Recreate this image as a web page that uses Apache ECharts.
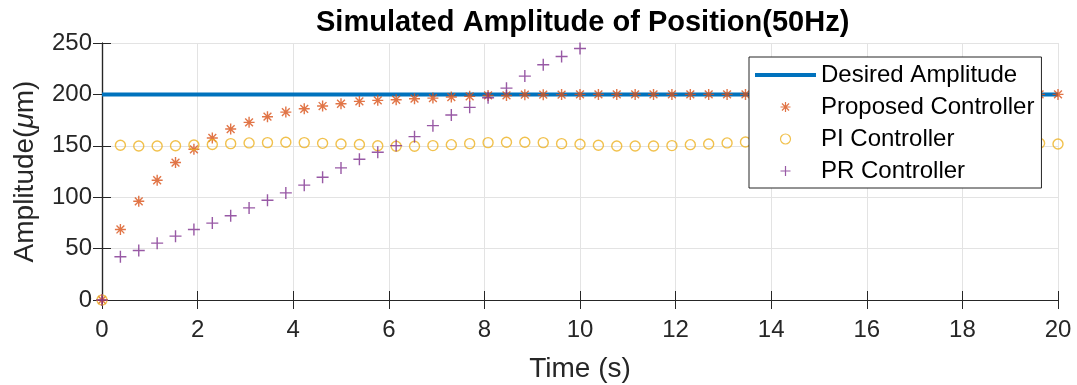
<!DOCTYPE html>
<html>
<head>
<meta charset="utf-8">
<script src="https://cdn.jsdelivr.net/npm/echarts@6/dist/echarts.min.js"></script>
<style>
  html, body { margin: 0; padding: 0; background: #fff; }
  #chart { width: 1077px; height: 385px; }
</style>
</head>
<body>
<div id="chart"></div>
<script>
// sample times (s)
const timeS = [0, 0.385, 0.769, 1.154, 1.538, 1.923, 2.308, 2.692, 3.077, 3.462, 3.846, 4.231, 4.615, 5.0,
  5.385, 5.769, 6.154, 6.538, 6.923, 7.308, 7.692, 8.077, 8.462, 8.846, 9.231, 9.615, 10.0,
  10.385, 10.769, 11.154, 11.538, 11.923, 12.308, 12.692, 13.077, 13.462, 13.846, 14.231, 14.615, 15.0,
  15.385, 15.769, 16.154, 16.538, 16.923, 17.308, 17.692, 18.077, 18.462, 18.846, 19.231, 19.615, 20.0];

const desiredAmp = [[0, 200], [20, 200]];

const proposedAmp = [0, 68.6, 96, 116.5, 133.7, 146.6, 157.6, 166.3, 172.8, 178.3, 182.8, 186, 188.7, 190.9,
  193.2, 194.2, 194.8, 195.8, 196.4, 197.4, 198.1, 199.0, 199.0, 199.7, 199.7, 199.8, 200,
  200, 200, 200, 200, 200, 200, 200, 200, 200, 200, 200, 200, 200,
  200, 200, 200, 200, 200, 200, 200, 200, 200, 200, 200, 200, 200];

const piAmp = [0, 150.5, 149.8, 149.8, 150, 150.8, 151.2, 152.1, 152.8, 153.1, 153.4, 153.1, 152.4, 151.8,
  151.2, 150, 149.5, 149.5, 150.2, 151.1, 152.1, 153.1, 153.4, 153.4, 153.1, 152.1, 151.5,
  150.5, 149.8, 149.8, 149.8, 150.2, 151.1, 151.8, 152.8, 153.7, 153.6, 153.3, 152.6, 151.8,
  151.0, 150.3, 149.9, 149.8, 150.1, 150.8, 151.7, 152.6, 153.2, 153.4, 153.1, 152.5, 151.8];

// PR response leaves the axes after t = 10 s
const prAmp = [0, 42, 48.2, 55.3, 62.1, 68.6, 74.8, 81.9, 89.6, 97.1, 104.2, 111.7, 119.4, 128.5,
  136.9, 143.7, 150.2, 158.9, 169.6, 179.9, 187.4, 196.8, 206.1, 217.8, 228.8, 236.9, 244.7];

const xTicks = { min: 0, max: 20, interval: 2 };
const yTicks = { min: 0, max: 250, interval: 50 };

const FONT = '"Liberation Sans", Arial, Helvetica, sans-serif';
const INK = '#262626';
const pair = (ys) => ys.map((y, i) => [timeS[i], y]);

const starPath = 'path://M0,5L10,5M5,0L5,10M1.46,1.46L8.54,8.54M8.54,1.46L1.46,8.54';
const plusPath = 'path://M0,5L10,5M5,0L5,10';
const barPath = 'path://M0,0L61,0L61,4L0,4Z';

const chart = echarts.init(document.getElementById('chart'), null, { renderer: 'canvas' });

const axisCommon = {
  axisLine: { show: true, lineStyle: { color: INK, width: 1.2 } },
  axisTick: { show: true, inside: true, length: 9, lineStyle: { color: INK, width: 1 } }
};

chart.setOption({
  animation: false,
  backgroundColor: '#fff',
  title: {
    text: 'Simulated Amplitude of Position(50Hz)',
    left: 311,
    top: 3,
    textStyle: { fontFamily: FONT, fontSize: 29, fontWeight: 'bold', color: '#000' }
  },
  grid: { left: 102, right: 19, top: 43, bottom: 85, outerBoundsMode: 'none', containLabel: false },
  legend: {
    orient: 'vertical',
    left: 749,
    top: 57,
    z: 20,
    padding: [6, 7, 5, 6],
    itemGap: 8,
    itemWidth: 61,
    itemHeight: 10,
    backgroundColor: '#fff',
    borderColor: INK,
    borderWidth: 1,
    textStyle: { fontFamily: FONT, fontSize: 24, color: '#000', lineHeight: 22 },
    data: [
      { name: 'Desired Amplitude', icon: barPath, itemStyle: { color: '#0072BD', borderWidth: 0 } },
      { name: 'Proposed Controller', itemStyle: { borderWidth: 1.2 } },
      { name: 'PI Controller', itemStyle: { borderWidth: 1.2 } },
      { name: 'PR Controller', itemStyle: { borderWidth: 1.2 } }
    ]
  },
  xAxis: [
    Object.assign({
      type: 'value', ...xTicks,
      name: 'Time (s)', nameLocation: 'middle', nameGap: 55,
      nameTextStyle: { fontFamily: FONT, fontSize: 28, color: INK },
      axisLabel: { fontFamily: FONT, fontSize: 24, color: INK, margin: 18 },
      splitLine: { show: true, lineStyle: { color: '#e3e3e3', width: 1 } }
    }, axisCommon),
    Object.assign({
      type: 'value', ...xTicks, position: 'top',
      axisLabel: { show: false }, splitLine: { show: false }
    }, axisCommon)
  ],
  yAxis: [
    Object.assign({
      type: 'value', ...yTicks,
      name: 'Amplitude({i|μ}m)', nameLocation: 'middle', nameGap: 63, nameRotate: 90,
      nameTextStyle: {
        fontFamily: FONT, fontSize: 28, color: INK,
        rich: { i: { fontFamily: FONT, fontSize: 28, fontStyle: 'italic', color: INK } }
      },
      axisLabel: { fontFamily: FONT, fontSize: 24, color: INK, margin: 10 },
      splitLine: { show: true, lineStyle: { color: '#e3e3e3', width: 1 } }
    }, axisCommon),
    Object.assign({
      type: 'value', ...yTicks, position: 'right',
      axisLabel: { show: false }, splitLine: { show: false }
    }, axisCommon)
  ],
  series: [
    {
      name: 'Desired Amplitude',
      type: 'line',
      data: desiredAmp,
      showSymbol: false,
      symbol: 'none',
      lineStyle: { color: '#0072BD', width: 4 },
      itemStyle: { color: '#0072BD' },
      z: 2
    },
    {
      name: 'Proposed Controller',
      type: 'scatter',
      data: pair(proposedAmp),
      symbol: starPath,
      symbolSize: 11,
      itemStyle: { color: '#D95319', borderColor: '#D95319', borderWidth: 1.4 },
      z: 3
    },
    {
      name: 'PI Controller',
      type: 'scatter',
      data: pair(piAmp),
      symbol: 'circle',
      symbolSize: 10,
      itemStyle: { color: 'transparent', borderColor: '#EDB120', borderWidth: 1.4 },
      z: 4
    },
    {
      name: 'PR Controller',
      type: 'scatter',
      data: pair(prAmp),
      symbol: plusPath,
      symbolSize: 12,
      itemStyle: { color: '#7E2F8E', borderColor: '#7E2F8E', borderWidth: 1.4 },
      z: 5
    }
  ]
});
</script>
</body>
</html>
